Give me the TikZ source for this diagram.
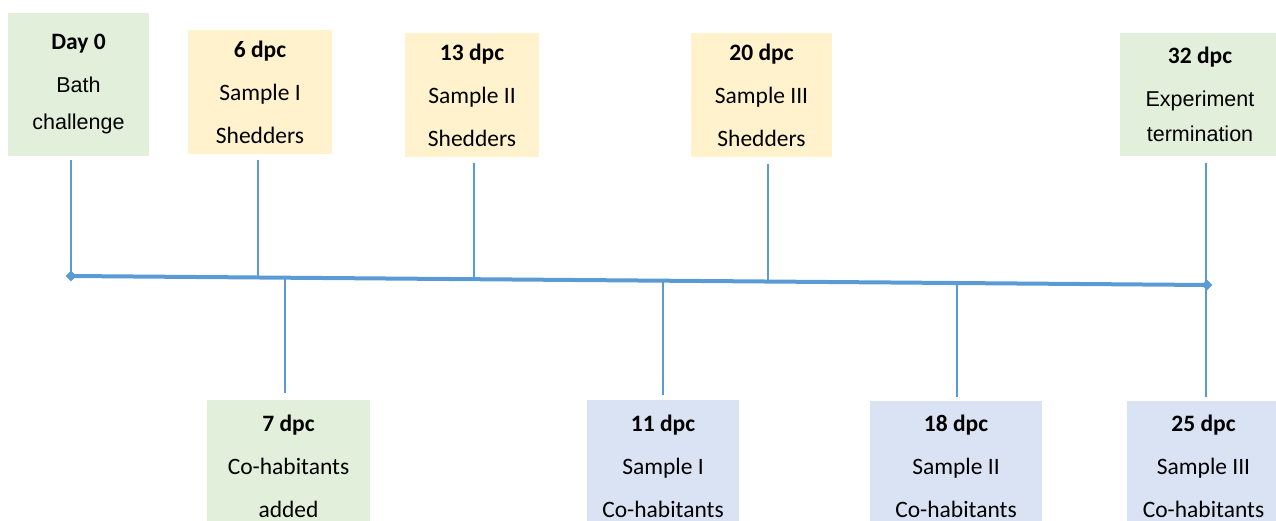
\documentclass[tikz,border=0pt]{standalone}
\usepackage{fontspec}
\setmainfont{Carlito}
\newfontfamily\helv{Liberation Sans}
\usetikzlibrary{shapes.geometric,calc}
\definecolor{bgreen}{HTML}{E2EFDA}
\definecolor{byellow}{HTML}{FFF2CC}
\definecolor{bblue}{HTML}{DAE3F3}
\definecolor{tline}{HTML}{5B9BD5}
\newcommand{\hv}{\helv\fontsize{21.5}{43}\selectfont}
\tikzset{
  box/.style={rectangle, inner sep=0pt, align=center, text=black,
    font=\fontsize{23.5}{43}\selectfont},
  gbox/.style={box, fill=bgreen},
  ybox/.style={box, fill=byellow},
  bbox/.style={box, fill=bblue},
  conn/.style={draw=tline, line width=1.4pt},
  axis/.style={draw=tline, line width=4pt},
  endmark/.style={diamond, fill=tline, inner sep=0pt, minimum size=11pt}
}
\begin{document}
\begin{tikzpicture}[x=1pt,y=-1pt]
\path[use as bounding box] (0,0) rectangle (1276,520);
\clip (0,0) rectangle (1276,520);
% boxes top
\node[gbox, minimum width=141pt, minimum height=143pt] (b0) at (78.5,84.5)
  {\textbf{Day 0}\\{\hv Bath}\\[-6pt]{\hv challenge}};
\node[ybox, minimum width=144pt, minimum height=124pt] (b6) at (260,92)
  {\textbf{6 dpc}\\Sample I\\Shedders};
\node[ybox, minimum width=134pt, minimum height=124pt] (b13) at (472,95)
  {\textbf{13 dpc}\\Sample II\\Shedders};
\node[ybox, minimum width=141pt, minimum height=124pt] (b20) at (761.5,95)
  {\textbf{20 dpc}\\Sample III\\Shedders};
\node[gbox, minimum width=160pt, minimum height=123pt] (b32) at (1200,94.5)
  {\textbf{32 dpc}\\{\hv Experiment}\\[-8pt]{\hv termination}};
% boxes bottom
\node[gbox, minimum width=163pt, minimum height=132pt] (b7) at (288.5,466)
  {\textbf{7 dpc}\\Co-habitants\\added};
\node[bbox, minimum width=152pt, minimum height=132pt] (b11) at (663,466)
  {\textbf{11 dpc}\\Sample I\\Co-habitants};
\node[bbox, minimum width=172pt, minimum height=131pt] (b18) at (956,466.5)
  {\textbf{18 dpc}\\Sample II\\Co-habitants};
\node[bbox, minimum width=153pt, minimum height=131pt] (b25) at (1203.5,466.5)
  {\textbf{25 dpc}\\Sample III\\Co-habitants};
% timeline
\coordinate (L) at (71,276);
\coordinate (R) at (1207,285);
\draw[axis] (L) -- (R);
\coordinate (t6) at ($(L)!0.1646!(R)$);
\coordinate (t13) at ($(L)!0.3548!(R)$);
\coordinate (t20) at ($(L)!0.6136!(R)$);
\coordinate (t7) at ($(L)!0.1884!(R)$);
\coordinate (t11) at ($(L)!0.5211!(R)$);
\coordinate (t18) at ($(L)!0.7799!(R)$);
\coordinate (t32) at (1206,285);
% connectors
\draw[conn, shorten <=4pt] (L |- b0.south) -- (L);
\draw[conn, shorten <=6pt] (t6 |- b6.south) -- (t6);
\draw[conn, shorten <=6pt] (t13 |- b13.south) -- (t13);
\draw[conn, shorten <=7pt] (t20 |- b20.south) -- (t20);
\draw[conn, shorten >=7pt] (t7) -- (t7 |- b7.north);
\draw[conn, shorten >=5pt] (t11) -- (t11 |- b11.north);
\draw[conn, shorten >=4pt] (t18) -- (t18 |- b18.north);
\draw[conn, shorten <=7pt, shorten >=4pt] (t32 |- b32.south) -- (t32 |- b25.north);
\node[endmark] (dl) at (L) {};
\node[endmark] (dr) at (R) {};
\end{tikzpicture}
\end{document}
